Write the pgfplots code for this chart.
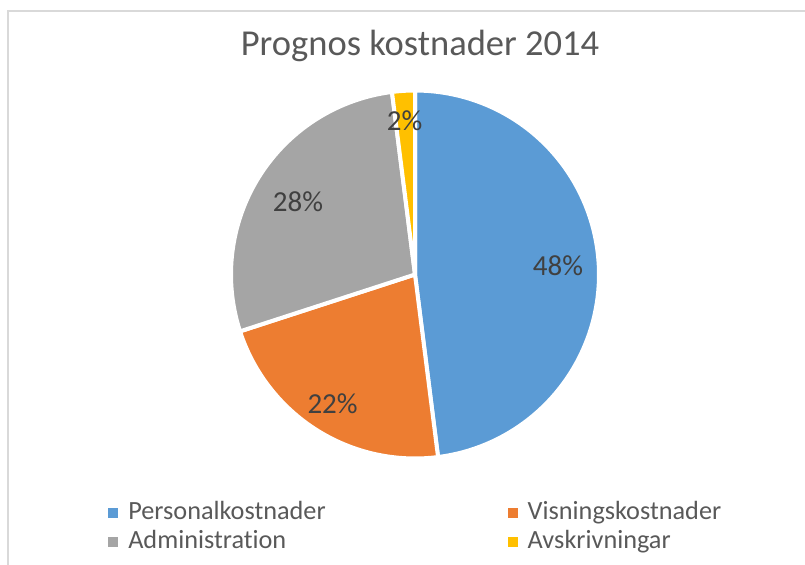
\documentclass[border=0pt]{standalone}
\usepackage{fontspec}
\setmainfont{Carlito}[Ligatures=CommonOff]
\usepackage{pgfplots}
\usepackage{pgfplotstable}
\pgfplotsset{compat=1.18}
\definecolor{cBlue}{HTML}{5B9BD5}
\definecolor{cOrange}{HTML}{ED7D31}
\definecolor{cGray}{HTML}{A5A5A5}
\definecolor{cYellow}{HTML}{FFC000}
\definecolor{cTitle}{HTML}{595959}
\definecolor{cLab}{HTML}{404040}
\definecolor{cFrame}{HTML}{D9D9D9}

\pgfplotstableread{
label value
Personalkostnader 48
Visningskostnader 22
Administration 28
Avskrivningar 2
}\piedata
\pgfplotstablegetelem{0}{value}\of\piedata \let\vA\pgfplotsretval
\pgfplotstablegetelem{1}{value}\of\piedata \let\vB\pgfplotsretval
\pgfplotstablegetelem{2}{value}\of\piedata \let\vC\pgfplotsretval
\pgfplotstablegetelem{3}{value}\of\piedata \let\vD\pgfplotsretval
\pgfmathsetmacro\aA{3.6*\vA}
\pgfmathsetmacro\aB{\aA+3.6*\vB}
\pgfmathsetmacro\aC{\aB+3.6*\vC}
\pgfmathsetmacro\aD{\aC+3.6*\vD}

\begin{document}
\begin{tikzpicture}
\useasboundingbox (0,0) rectangle (603.75pt,423pt);
\draw[cFrame, line width=1.1pt] (6pt,-2pt) -- (6pt,414.75pt) -- (606pt,414.75pt);
\node[text=cTitle, font=\fontsize{27.4}{32}\selectfont, anchor=base] at (315pt,381pt) {Prognos kostnader 2014};
\begin{axis}[
  scale only axis, width=276pt, height=276pt,
  at={(311.25pt,217.125pt)}, anchor=center,
  xmin=-1, xmax=1, ymin=-1, ymax=1,
  hide axis, clip=false,
  legend image code/.code={\fill[draw=none] (0pt,-2pt) rectangle (7.5pt,5.5pt);},
  legend columns=2,
  legend style={
    at={(-0.3342,-0.1136)}, anchor=north west,
    draw=none, fill=none, inner sep=0pt,
    font=\fontsize{19.7}{23}\selectfont, text=cTitle,
    nodes={inner sep=0pt, text height=14pt, text depth=7.75pt},
    row sep=0pt,
    /tikz/column 1/.style={column sep=7.5pt},
    /tikz/column 2/.style={column sep=136.5pt},
    /tikz/column 3/.style={column sep=7.5pt},
  },
  legend cell align=left,
]
\addplot[fill=cBlue, draw=white, line width=3pt, line join=round, domain=0:\aA, samples=90] ({sin(x)},{cos(x)}) -- (axis cs:0,0) -- cycle;
\addlegendentry{Personalkostnader}
\addplot[fill=cOrange, draw=white, line width=3pt, line join=round, domain=\aA:\aB, samples=60] ({sin(x)},{cos(x)}) -- (axis cs:0,0) -- cycle;
\addlegendentry{Visningskostnader}
\addplot[fill=cGray, draw=white, line width=3pt, line join=round, domain=\aB:\aC, samples=60] ({sin(x)},{cos(x)}) -- (axis cs:0,0) -- cycle;
\addlegendentry{Administration}
\addplot[fill=cYellow, draw=white, line width=3pt, line join=round, domain=\aC:\aD, samples=10] ({sin(x)},{cos(x)}) -- (axis cs:0,0) -- cycle;
\addlegendentry{Avskrivningar}
\node[anchor=base, text=cLab, font=\fontsize{21.75}{26}\selectfont] at (axis cs:0.777,-0.003) {48\%};
\node[anchor=base, text=cLab, font=\fontsize{21.75}{26}\selectfont] at (axis cs:-0.448,-0.753) {22\%};
\node[anchor=base, text=cLab, font=\fontsize{21.75}{26}\selectfont] at (axis cs:-0.636,0.345) {28\%};
\node[anchor=base, text=cLab, font=\fontsize{21.75}{26}\selectfont] at (axis cs:-0.057,0.785) {2\%};
\end{axis}
\end{tikzpicture}
\end{document}
